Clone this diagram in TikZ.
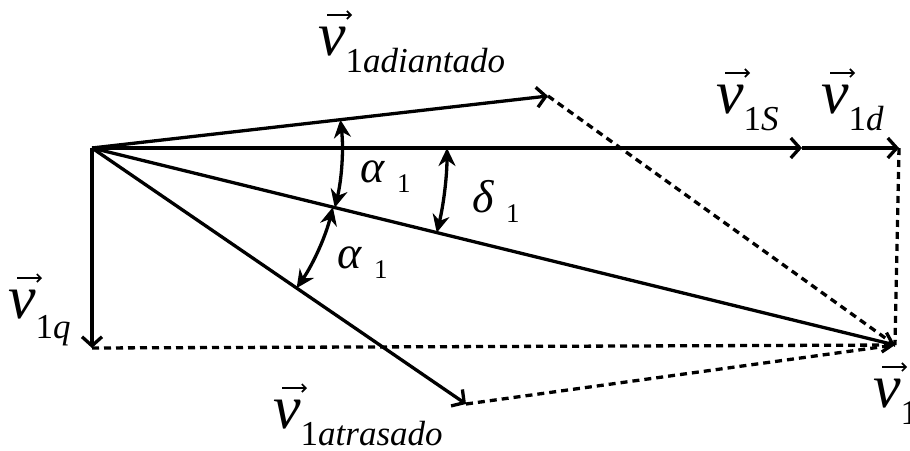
\documentclass[tikz,border=0pt]{standalone}
\usepackage{fontspec}
\setmainfont{Liberation Serif}
\usetikzlibrary{arrows.meta}
\newcommand\vlab[2][17pt]{\fontsize{62}{62}\selectfont\textit{v}\raisebox{-#1}{\fontsize{35}{35}\selectfont 1\textit{#2}}}
\newcommand\glab[1]{\fontsize{46}{46}\selectfont\textit{#1}\hspace{12pt}\raisebox{-10pt}{\fontsize{27}{27}\selectfont 1}}
\begin{document}
\begin{tikzpicture}[x=1pt,y=-1pt,
  vec/.style={line width=3.3pt,-{Straight Barb[length=9pt,width=20pt]}},
  dsh/.style={line width=3.3pt,dash pattern=on 7pt off 5pt},
  ang/.style={line width=3.3pt,{Stealth[length=18pt,width=17pt]}-{Stealth[length=18pt,width=17pt]}},
  varr/.style={line width=1.6pt,-{Straight Barb[length=4pt,width=8pt]}},
  lab/.style={anchor=base west,inner sep=0pt}]
\useasboundingbox (0,0) rectangle (910,450);
\coordinate (O) at (92,148);
\coordinate (A) at (548,96);
\coordinate (T) at (466,404);
\coordinate (S) at (802,148);
\coordinate (D) at (899,148);
\coordinate (Q) at (92,348);
\coordinate (V) at (895,345);
% dashed construction lines
\draw[dsh] (A) -- (V);
\draw[dsh] (T) -- (V);
\draw[dsh] (Q) -- (V);
\draw[dsh] (D) -- (V);
% vectors
\draw[vec] (O) -- (A);
\draw[vec] (O) -- (T);
\draw[vec] (O) -- (S);
\draw[vec] (S) -- (D);
\draw[vec] (O) -- (Q);
\draw[vec] (O) -- (V);
% angle arcs
\draw[ang] (O) ++(-6.5:250) arc[start angle=-6.5,end angle=13.8,radius=250];
\draw[ang] (O) ++(13.8:248) arc[start angle=13.8,end angle=34.4,radius=248];
\draw[ang] (O) ++(0:355) arc[start angle=0,end angle=13.8,radius=355];
% labels
\node[lab] (lA) at (318,55) {\vlab{adiantado}};
\node[lab] (lS) at (716,113) {\vlab{S}};
\node[lab] (lD) at (821,113) {\vlab{d}};
\node[lab] (lQ) at (8,318) {\vlab[20pt]{q}};
\node[lab] (lT) at (273,428) {\vlab[17pt]{atrasado}};
\node[lab] (lV) at (873,407) {\vlab{}};
\foreach \n in {lA,lS,lD,lQ,lT,lV}
  \draw[varr] ([shift={(9,-40)}]\n.base west) -- ++(25,0);
\node[lab] (ga1) at (360,182) {\glab{α}};
\node[lab] (ga2) at (337,268) {\glab{α}};
\node[lab] (gd) at (472,212) {\glab{δ}};
\end{tikzpicture}
\end{document}
